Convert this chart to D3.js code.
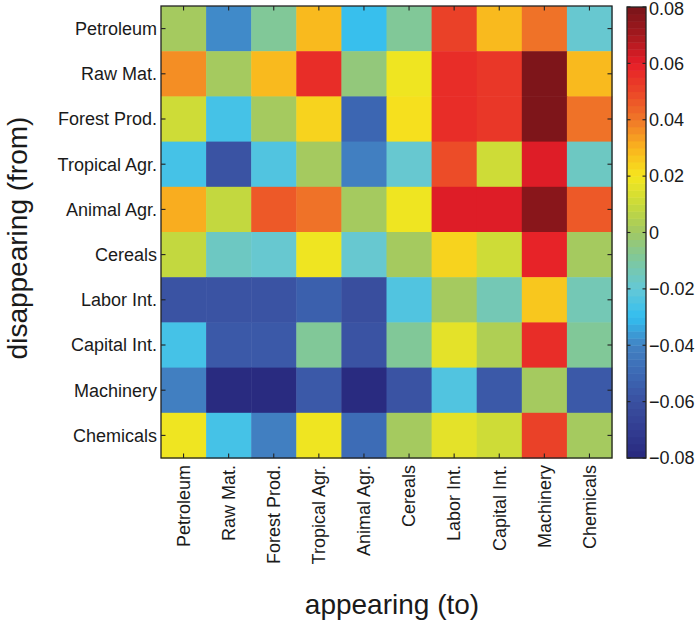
<!DOCTYPE html>
<html><head><meta charset="utf-8">
<script src="https://cdn.jsdelivr.net/npm/d3@7"></script>
<style>
html,body{margin:0;padding:0;background:#fff;}
svg{display:block;}
text{font-family:"Liberation Sans",Arial,Helvetica,sans-serif;fill:#1a1a1a;}
</style></head><body>
<svg id="chart" width="698" height="624"></svg>
<script>
const categories = ["Petroleum","Raw Mat.","Forest Prod.","Tropical Agr.","Animal Agr.","Cereals","Labor Int.","Capital Int.","Machinery","Chemicals"];
// rows: disappearing (from), columns: appearing (to)
const rowPetroleum   = [0.001,-0.038,-0.008,0.028,-0.028,-0.008,0.052,0.028,0.040,-0.020];
const rowRawMat      = [0.036,0.001,0.029,0.055,-0.005,0.018,0.056,0.053,0.078,0.028];
const rowForestProd  = [0.010,-0.027,0.002,0.023,-0.052,0.022,0.056,0.053,0.078,0.040];
const rowTropicalAgr = [-0.027,-0.058,-0.024,0.002,-0.042,-0.019,0.048,0.011,0.061,-0.017];
const rowAnimalAgr   = [0.032,0.008,0.047,0.040,0.002,0.018,0.062,0.060,0.077,0.046];
const rowCereals     = [0.009,-0.017,-0.020,0.018,-0.019,0.001,0.024,0.012,0.058,0.001];
const rowLaborInt    = [-0.058,-0.058,-0.058,-0.054,-0.062,-0.024,0.002,-0.014,0.025,-0.015];
const rowCapitalInt  = [-0.027,-0.056,-0.056,-0.009,-0.060,-0.010,0.016,0.003,0.056,-0.009];
const rowMachinery   = [-0.042,-0.078,-0.078,-0.057,-0.078,-0.058,-0.024,-0.056,0.002,-0.056];
const rowChemicals   = [0.018,-0.027,-0.042,0.018,-0.048,0.001,0.016,0.011,0.052,0.001];
const matrix = [rowPetroleum,rowRawMat,rowForestProd,rowTropicalAgr,rowAnimalAgr,rowCereals,rowLaborInt,rowCapitalInt,rowMachinery,rowChemicals];
const colorTicks = [0.08,0.06,0.04,0.02,0,-0.02,-0.04,-0.06,-0.08];
const colorDomain = [-0.08,0.08];

// colormap (printed jet look)
const cmapStops = [-0.08,-0.07,-0.06,-0.05,-0.04,-0.03,-0.02,-0.01,0,0.01,0.02,0.03,0.04,0.05,0.06,0.07,0.08];
const cmapColors = ["#28287d","#323c91","#3a50a0","#3c69b4","#4282c3","#32bef0","#64c8d7","#7dc8a0","#a0c864","#c8da3a","#f5e61e","#fab41e","#f07828","#eb4628","#e61e28","#a5191e","#781419"];
const cmap = d3.scaleLinear().domain(cmapStops).range(cmapColors).interpolate(d3.interpolateRgb).clamp(true);
const nLevels = 64;
function quant(v){
  const t = (v-colorDomain[0])/(colorDomain[1]-colorDomain[0]);
  let i = Math.floor(t*nLevels); if(i>=nLevels)i=nLevels-1; if(i<0)i=0;
  return colorDomain[0]+(i+0.5)/nLevels*(colorDomain[1]-colorDomain[0]);
}

const svg = d3.select("#chart");
const L=161, R=612, T=6, B=458;
const x = d3.scaleBand().domain(categories).range([L,R]).padding(0);
const y = d3.scaleBand().domain(categories).range([T,B]).padding(0);

const cells = [];
matrix.forEach((row,i)=>row.forEach((v,j)=>cells.push({r:categories[i],c:categories[j],v})));
svg.append("g").selectAll("rect").data(cells).enter().append("rect")
  .attr("x",d=>x(d.c)).attr("y",d=>y(d.r))
  .attr("width",x.bandwidth()+0.5).attr("height",y.bandwidth()+0.5)
  .attr("fill",d=>cmap(quant(d.v)));

// frame
svg.append("rect").attr("x",L).attr("y",T).attr("width",R-L).attr("height",B-T)
  .attr("fill","none").attr("stroke","#222").attr("stroke-width",1.3);

const tl=4.5;
const tg = svg.append("g").attr("stroke","#222").attr("stroke-width",1.1);
categories.forEach(c=>{
  const cx = x(c)+x.bandwidth()/2, cy=y(c)+y.bandwidth()/2;
  tg.append("line").attr("x1",cx).attr("x2",cx).attr("y1",T).attr("y2",T+tl);
  tg.append("line").attr("x1",cx).attr("x2",cx).attr("y1",B).attr("y2",B-tl);
  tg.append("line").attr("y1",cy).attr("y2",cy).attr("x1",L).attr("x2",L+tl);
  tg.append("line").attr("y1",cy).attr("y2",cy).attr("x1",R).attr("x2",R-tl);
});

// y tick labels
svg.append("g").selectAll("text").data(categories).enter().append("text")
  .attr("x",L-4).attr("y",d=>y(d)+y.bandwidth()/2).attr("dy","0.35em")
  .attr("text-anchor","end").attr("font-size",18).text(d=>d);
// x tick labels
svg.append("g").selectAll("text").data(categories).enter().append("text")
  .attr("transform",d=>`translate(${x(d)+x.bandwidth()/2},${B+7}) rotate(-90)`)
  .attr("dy","0.35em").attr("text-anchor","end").attr("font-size",18).text(d=>d);

// axis titles
svg.append("text").attr("transform",`translate(27,238) rotate(-90)`)
  .attr("text-anchor","middle").attr("font-size",28).text("disappearing (from)");
svg.append("text").attr("x",392).attr("y",614)
  .attr("text-anchor","middle").attr("font-size",28).text("appearing (to)");

// colorbar
const CL=627, CR=646, CT=7, CB=458;
const cy = d3.scaleLinear().domain(colorDomain).range([CB,CT]);
const levels = d3.range(nLevels).map(i=>colorDomain[0]+(i+0.5)/nLevels*(colorDomain[1]-colorDomain[0]));
const step=(colorDomain[1]-colorDomain[0])/nLevels;
svg.append("g").selectAll("rect").data(levels).enter().append("rect")
  .attr("x",CL).attr("width",CR-CL)
  .attr("y",d=>cy(d+step/2)).attr("height",d=>cy(d-step/2)-cy(d+step/2)+0.5)
  .attr("fill",d=>cmap(d));
svg.append("rect").attr("x",CL).attr("y",CT).attr("width",CR-CL).attr("height",CB-CT)
  .attr("fill","none").attr("stroke","#222").attr("stroke-width",1.3);
const ctg = svg.append("g").attr("stroke","#222").attr("stroke-width",1.1);
colorTicks.forEach(t=>{
  ctg.append("line").attr("x1",CL).attr("x2",CL+3.5).attr("y1",cy(t)).attr("y2",cy(t));
  ctg.append("line").attr("x1",CR).attr("x2",CR-3.5).attr("y1",cy(t)).attr("y2",cy(t));
});
svg.append("g").selectAll("text").data(colorTicks).enter().append("text")
  .attr("x",CR+3).attr("y",d=>Math.max(cy(d),9)).attr("dy","0.35em").attr("font-size",18)
  .text(d=>d===0?"0":(d<0?"\u2212":"")+Math.abs(d).toFixed(2));
</script>
</body></html>
